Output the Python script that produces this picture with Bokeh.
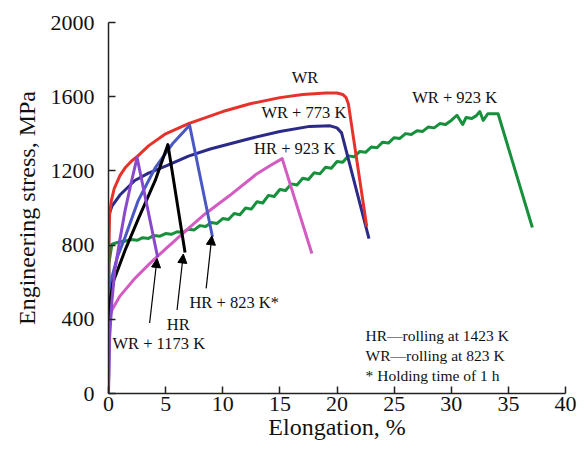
from bokeh.plotting import figure
from bokeh.models import Label, Arrow, NormalHead, Range1d, FixedTicker
from bokeh.embed import file_html
from bokeh.resources import INLINE

FONT = "'Liberation Serif', serif"

# ---- data (elongation %, stress MPa) ----
wr_x = [0, 0.03, 0.1, 0.25, 0.5, 1.0, 1.5, 2.0, 2.6, 3.5, 5.0, 7.0, 10.0, 12.4, 15.0, 17.0, 19.0, 20.0, 20.5, 20.8, 21.0, 22.6]
wr_y = [0, 800, 965, 1040, 1105, 1175, 1220, 1252, 1282, 1335, 1400, 1455, 1520, 1562, 1595, 1612, 1620, 1620, 1612, 1595, 1560, 900]

wr773_x = [0, 0.02, 0.3, 1.0, 2.3, 3.5, 5.1, 7.0, 8.9, 12.4, 15.0, 17.6, 19.4, 20.0, 20.4, 22.8]
wr773_y = [0, 960, 1010, 1070, 1148, 1188, 1228, 1280, 1318, 1375, 1412, 1440, 1443, 1432, 1405, 835]

wr923_x = [0, 0.03, 0.3, 1.0, 1.5, 2.0, 2.5, 3.0, 3.5, 4.0, 4.5, 5.0, 5.5, 6.0, 6.5, 7.0, 7.5, 8.0,
           8.5, 9.0, 9.5, 10.0, 10.5, 11.0, 11.5, 12.0, 12.5, 13.0, 13.5, 14.0, 14.5, 15.0, 15.5,
           16.0, 16.5, 17.0, 17.5, 18.0, 18.5, 19.0, 19.5, 20.0, 20.5, 21.0, 21.5, 22.0, 22.5,
           23.0, 23.5, 24.0, 24.5, 25.0, 25.5, 26.0, 26.5, 27.0, 27.5, 28.0, 28.5, 29.0, 29.5,
           30.0, 30.5, 31.0, 31.3, 31.8, 32.2, 32.5, 32.8, 33.2, 34.1, 37.1]
wr923_y = [0, 700, 805, 818, 822, 830, 826, 840, 836, 852, 848, 862, 858, 872, 868, 886, 882, 905,
           900, 922, 917, 943, 938, 970, 964, 1000, 994, 1034, 1027, 1068, 1062, 1100, 1094,
           1130, 1124, 1160, 1154, 1190, 1184, 1220, 1214, 1251, 1247, 1281, 1276, 1305, 1300,
           1329, 1325, 1355, 1350, 1379, 1375, 1401, 1396, 1417, 1413, 1437, 1432, 1455, 1450,
           1472, 1500, 1450, 1488, 1482, 1498, 1520, 1472, 1508, 1508, 895]

hr923_x = [0, 0.02, 0.3, 1.0, 2.3, 3.6, 5.0, 7.0, 8.45, 10.6, 13.0, 14.2, 15.2, 17.8]
hr923_y = [0, 390, 450, 525, 620, 700, 780, 890, 968, 1067, 1185, 1230, 1266, 755]

hr823_x = [0, 0.03, 0.3, 0.8, 1.45, 2.6, 4.1, 5.6, 7.1, 9.1]
hr823_y = [0, 480, 627, 740, 842, 1040, 1218, 1346, 1446, 845]

hr_x = [0, 0.02, 0.4, 1.5, 2.6, 4.1, 5.2, 6.7]
hr_y = [0, 450, 600, 780, 940, 1150, 1342, 760]

wr1173_x = [0, 0.1, 0.3, 0.55, 1.0, 1.45, 2.0, 2.5, 4.3]
wr1173_y = [0, 300, 500, 663, 830, 986, 1140, 1272, 735]

x_ticks = [0, 5, 10, 15, 20, 25, 30, 35, 40]
y_ticks = [0, 400, 800, 1200, 1600, 2000]

series = [
    (wr923_x, wr923_y, "#17903c"),
    (hr923_x, hr923_y, "#d35bc2"),
    (wr773_x, wr773_y, "#2c2a88"),
    (wr_x, wr_y, "#e6322a"),
    (hr823_x, hr823_y, "#4a58c4"),
    (hr_x, hr_y, "#000000"),
    (wr1173_x, wr1173_y, "#8a48cc"),
]

p = figure(width=585, height=451, output_backend="svg", toolbar_location=None,
           x_range=Range1d(0, 40), y_range=Range1d(0, 2000),
           min_border_left=108, min_border_right=20, min_border_top=22, min_border_bottom=58)
p.outline_line_color = None
p.grid.grid_line_color = None
p.background_fill_color = "white"

for ax in (p.xaxis, p.yaxis):
    ax.major_tick_in = 7
    ax.major_tick_out = 0
    ax.minor_tick_line_color = None
    ax.axis_line_color = "#222222"
    ax.axis_line_width = 1.5
    ax.major_tick_line_color = "#222222"
    ax.major_tick_line_width = 1.5
    ax.major_label_text_font = FONT
    ax.major_label_text_font_size = "22px"
    ax.major_label_text_color = "#111111"
    ax.axis_label_text_font = FONT
    ax.axis_label_text_font_size = "24px"
    ax.axis_label_text_font_style = "normal"
    ax.axis_label_text_color = "#111111"

p.xaxis.ticker = FixedTicker(ticks=x_ticks)
p.yaxis.ticker = FixedTicker(ticks=y_ticks)
p.xaxis.axis_label = "Elongation, %"
p.yaxis.axis_label = "Engineering stress, MPa"
p.xaxis.major_label_standoff = 3
p.yaxis.major_label_standoff = 14
p.xaxis.axis_label_standoff = 0
p.yaxis.axis_label_standoff = 8

for xs, ys, c in series:
    p.line(xs, ys, line_color=c, line_width=3, line_join="round")

labels = [
    ("WR", 17.2, 1702),
    ("WR + 773 K", 17.1, 1513),
    ("HR + 923 K", 16.3, 1320),
    ("WR + 923 K", 30.3, 1594),
    ("HR + 823 K*", 11.0, 492),
    ("HR", 6.1, 374),
    ("WR + 1173 K", 4.4, 271),
]
for t, x, y in labels:
    p.add_layout(Label(x=x, y=y, text=t, text_font=FONT,
                       text_font_size="16.5px", text_align="center", text_baseline="middle",
                       text_color="#111111"))

notes = [("HR\u2014rolling at 1423 K", 315), ("WR\u2014rolling at 823 K", 207),
         ("* Holding time of 1 h", 99)]
for t, y in notes:
    p.add_layout(Label(x=22.5, y=y, text=t, text_font=FONT,
                       text_font_size="15.5px", text_align="left", text_baseline="middle",
                       text_color="#111111"))

arrows = [((3.6, 380), (4.25, 728)), ((6.0, 450), (6.55, 752)), ((8.55, 567), (9.05, 850))]
for (x0, y0), (x1, y1) in arrows:
    p.add_layout(Arrow(x_start=x0, y_start=y0, x_end=x1, y_end=y1, line_width=1.2,
                       line_color="black",
                       end=NormalHead(size=9, fill_color="black", line_color="black")))

open("out.html", "w").write(file_html(p, INLINE))
